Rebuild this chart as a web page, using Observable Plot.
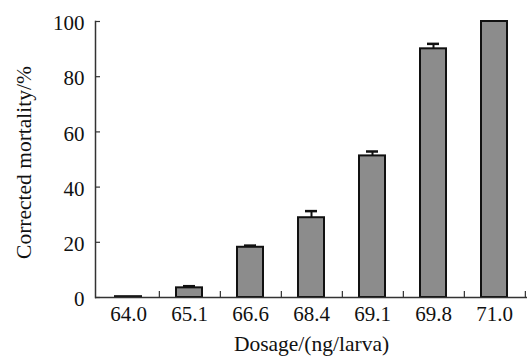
<!DOCTYPE html>
<html>
<head>
<meta charset="utf-8">
<script src="https://cdn.jsdelivr.net/npm/d3@7"></script>
<script src="https://cdn.jsdelivr.net/npm/@observablehq/plot@0.6"></script>
<style>
  body { margin: 0; background: #fff; }
  svg, svg text { font-family: "Liberation Serif", serif !important; }
</style>
</head>
<body>
<div id="chart"></div>
<script>
const doses = ["64.0", "65.1", "66.6", "68.4", "69.1", "69.8", "71.0"];
const mortality = [0.3, 3.5, 18.2, 28.9, 51.3, 90.1, 100];
const errors = [0, 0.6, 0.6, 2.4, 1.6, 1.8, 0];
const yTicks = [0, 20, 40, 60, 80, 100];

const data = doses.map((d, i) => ({dose: d, value: mortality[i], upper: mortality[i] + errors[i], err: errors[i]}));
const errData = data.filter(d => d.err > 0);

const W = 530, H = 358, ML = 95, MR = 3, MT = 21, MB = 61;
const step = (W - ML - MR) / doses.length;
const FONT = "Liberation Serif, serif";

const chart = Plot.plot({
  width: W,
  height: H,
  marginLeft: ML,
  marginRight: MR,
  marginTop: MT,
  marginBottom: MB,
  style: {fontFamily: FONT, fontSize: "21px", color: "#111", background: "#fff"},
  x: {domain: doses, paddingInner: 0.58, paddingOuter: 0.29},
  y: {domain: [0, 100]},
  marks: [
    Plot.ruleX(errData, {x: "dose", y1: "value", y2: "upper", stroke: "#111", strokeWidth: 2}),
    Plot.tickY(errData, {x: "dose", y: "upper", stroke: "#111", strokeWidth: 2.5, insetLeft: 7, insetRight: 7}),
    Plot.barY(data, {x: "dose", y: "value", fill: "#8c8c8c", stroke: "#111", strokeWidth: 2}),
    Plot.ruleY([0], {stroke: "#333", strokeWidth: 1.5}),
    Plot.frame({anchor: "left", stroke: "#333", strokeWidth: 1.5}),
    Plot.ruleX(doses, {x: d => d, dx: step / 2, y1: 0, y2: 2.2, stroke: "#333", strokeWidth: 1.2}),
    Plot.axisY({ticks: yTicks, tickSize: 0, tickPadding: 11, dy: 2, label: null, fontSize: 21, fontFamily: FONT, fill: "#111"}),
    Plot.axisY({ticks: yTicks, tickSize: -5, text: null, label: null, stroke: "#333", strokeWidth: 1.2}),
    Plot.axisX({tickSize: 0, tickPadding: 9, label: null, fontSize: 21, fontFamily: FONT, fill: "#111"}),
    Plot.text(["Corrected mortality/%"], {frameAnchor: "left", textAnchor: "middle", lineAnchor: "middle", dx: -71, dy: 3, rotate: -90, fontSize: 21.5, fontFamily: FONT, fill: "#111"}),
    Plot.text(["Dosage/(ng/larva)"], {frameAnchor: "bottom", lineAnchor: "middle", dy: 47, fontSize: 21.5, fontFamily: FONT, fill: "#111"})
  ]
});
document.getElementById("chart").appendChild(chart);
</script>
</body>
</html>
